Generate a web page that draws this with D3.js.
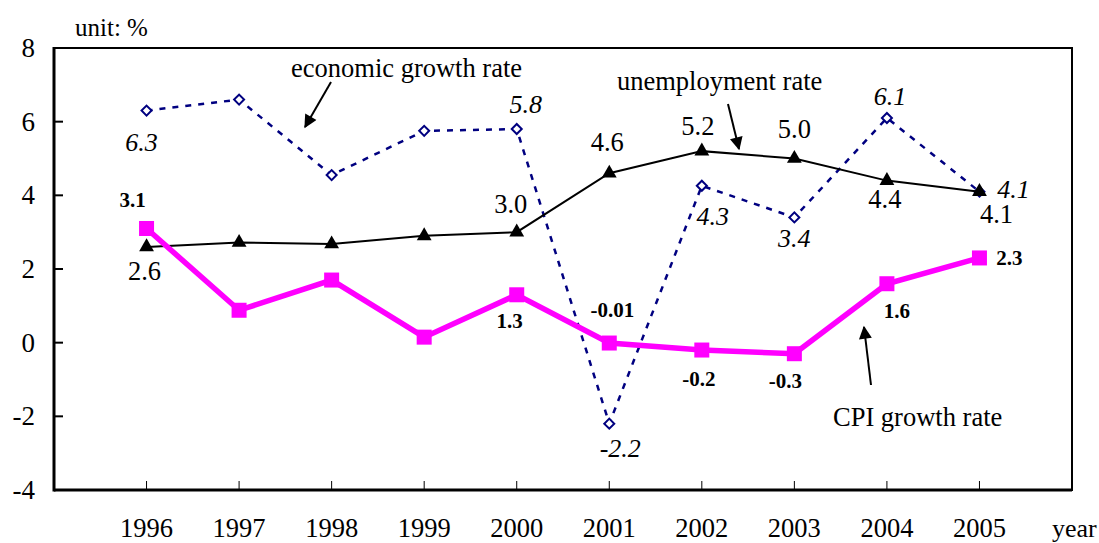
<!DOCTYPE html>
<html>
<head>
<meta charset="utf-8">
<script src="https://cdn.jsdelivr.net/npm/d3@7"></script>
<style>
  body { margin: 0; background: #fff; }
  text { font-family: 'Liberation Serif', 'Times New Roman', 'DejaVu Serif', serif; }
</style>
</head>
<body>
<svg id="chart" width="1099" height="543"></svg>
<script>
// data
const years = [1996, 1997, 1998, 1999, 2000, 2001, 2002, 2003, 2004, 2005];
const econGrowth = [6.3, 6.6, 4.55, 5.75, 5.8, -2.2, 4.26, 3.4, 6.1, 4.1];
const unemployment = [2.6, 2.72, 2.68, 2.9, 3.0, 4.6, 5.2, 5.0, 4.4, 4.1];
const cpiGrowth = [3.1, 0.88, 1.7, 0.15, 1.3, -0.01, -0.2, -0.3, 1.6, 2.3];
const yTicks = [-4, -2, 0, 2, 4, 6, 8];

// which points get a value label, and where it sits (dx, dy in px)
const econLabels = [
  { i: 0, text: '6.3', dx: -5, dy: 40 },
  { i: 4, text: '5.8', dx: 9, dy: -16 },
  { i: 5, text: '-2.2', dx: 11, dy: 33 },
  { i: 6, text: '4.3', dx: 11, dy: 39 },
  { i: 7, text: '3.4', dx: 0, dy: 30 },
  { i: 8, text: '6.1', dx: 3, dy: -13 },
  { i: 9, text: '4.1', dx: 34, dy: 6 }
];
const unempLabels = [
  { i: 0, text: '2.6', dx: -2, dy: 33 },
  { i: 4, text: '3.0', dx: -6, dy: -19 },
  { i: 5, text: '4.6', dx: -2, dy: -22 },
  { i: 6, text: '5.2', dx: -4, dy: -16 },
  { i: 7, text: '5.0', dx: 0, dy: -21 },
  { i: 8, text: '4.4', dx: -2, dy: 27 },
  { i: 9, text: '4.1', dx: 17, dy: 31 }
];
const cpiLabels = [
  { i: 0, text: '3.1', dx: -14, dy: -21 },
  { i: 4, text: '1.3', dx: -7, dy: 33 },
  { i: 5, text: '-0.01', dx: 3, dy: -26 },
  { i: 6, text: '-0.2', dx: -3, dy: 36 },
  { i: 7, text: '-0.3', dx: -9, dy: 34 },
  { i: 8, text: '1.6', dx: 10, dy: 34 },
  { i: 9, text: '2.3', dx: 30, dy: 7 }
];

const svg = d3.select('#chart');
const plotLeft = 54, plotRight = 1072, plotTop = 48, plotBottom = 490;

const x = d3.scaleLinear().domain([1995, 2006]).range([plotLeft, plotRight]);
const y = d3.scaleLinear().domain([-4, 8]).range([plotBottom, plotTop]);

// frame
svg.append('rect')
  .attr('x', plotLeft).attr('y', plotTop)
  .attr('width', plotRight - plotLeft).attr('height', plotBottom - plotTop)
  .attr('fill', 'none').attr('stroke', '#000').attr('stroke-width', 2);
svg.append('line')
  .attr('x1', plotLeft).attr('x2', plotLeft).attr('y1', plotTop - 1).attr('y2', plotBottom + 1.5)
  .attr('stroke', '#000').attr('stroke-width', 3);
svg.append('line')
  .attr('x1', plotLeft).attr('x2', plotRight).attr('y1', plotBottom).attr('y2', plotBottom)
  .attr('stroke', '#000').attr('stroke-width', 3);

// y ticks (inside) and labels
yTicks.forEach(function(t) {
  if (t > -4 && t < 8) {
    svg.append('line')
      .attr('x1', plotLeft).attr('x2', plotLeft + 9)
      .attr('y1', y(t)).attr('y2', y(t))
      .attr('stroke', '#000').attr('stroke-width', 2);
  }
  svg.append('text')
    .attr('x', 35).attr('y', y(t) + 9)
    .attr('text-anchor', 'end')
    .attr('font-size', '27px')
    .text(t);
});

// x ticks and labels
years.forEach(function(yr) {
  svg.append('line')
    .attr('x1', x(yr)).attr('x2', x(yr))
    .attr('y1', plotBottom).attr('y2', plotBottom - 9)
    .attr('stroke', '#000').attr('stroke-width', 1);
  svg.append('text')
    .attr('x', x(yr)).attr('y', 537)
    .attr('text-anchor', 'middle')
    .attr('font-size', '26.5px')
    .text(yr);
});
svg.append('text').attr('x', 1052).attr('y', 537).attr('font-size', '26px').text('year');
svg.append('text').attr('x', 75).attr('y', 36).attr('font-size', '25px').text('unit: %');

const line = d3.line().x((d, i) => x(years[i])).y(d => y(d));

// economic growth rate
svg.append('path').datum(econGrowth)
  .attr('d', line).attr('fill', 'none')
  .attr('stroke', '#000080').attr('stroke-width', 2.5)
  .attr('stroke-dasharray', '6,7');
svg.selectAll('.diamond').data(econGrowth).enter().append('path')
  .attr('d', d3.symbol(d3.symbolSquare, 50)())
  .attr('transform', (d, i) => `translate(${x(years[i])},${y(d)}) rotate(45)`)
  .attr('fill', '#fff').attr('stroke', '#000080').attr('stroke-width', 2);

// unemployment rate
svg.append('path').datum(unemployment)
  .attr('d', line).attr('fill', 'none')
  .attr('stroke', '#000').attr('stroke-width', 2);
svg.selectAll('.tri').data(unemployment).enter().append('path')
  .attr('d', d3.symbol(d3.symbolTriangle, 95)())
  .attr('transform', (d, i) => `translate(${x(years[i])},${y(d)})`)
  .attr('fill', '#000');

// CPI growth rate
svg.append('path').datum(cpiGrowth)
  .attr('d', line).attr('fill', 'none')
  .attr('stroke', '#ff00ff').attr('stroke-width', 5.5);
svg.selectAll('.sq').data(cpiGrowth).enter().append('rect')
  .attr('x', (d, i) => x(years[i]) - 7.5).attr('y', d => y(d) - 7.5)
  .attr('width', 15).attr('height', 15)
  .attr('fill', '#ff00ff');

// value labels
function addLabels(list, values, style) {
  list.forEach(function(l) {
    svg.append('text')
      .attr('x', x(years[l.i]) + l.dx)
      .attr('y', y(values[l.i]) + l.dy)
      .attr('text-anchor', 'middle')
      .attr('font-size', style.size)
      .attr('font-style', style.italic ? 'italic' : 'normal')
      .attr('font-weight', style.bold ? 'bold' : 'normal')
      .text(l.text);
  });
}
addLabels(econLabels, econGrowth, { size: '26px', italic: true });
addLabels(unempLabels, unemployment, { size: '26.5px' });
addLabels(cpiLabels, cpiGrowth, { size: '21px', bold: true });

// annotations with arrows
svg.append('defs').append('marker')
  .attr('id', 'arrow').attr('viewBox', '0 0 10 10')
  .attr('refX', 9).attr('refY', 5)
  .attr('markerWidth', 7.5).attr('markerHeight', 6.5)
  .attr('orient', 'auto')
  .append('path').attr('d', 'M0,0 L10,5 L0,10 z').attr('fill', '#000');

function annotate(label, tx, ty, x1, y1, x2, y2) {
  svg.append('text').attr('x', tx).attr('y', ty).attr('font-size', '26.5px').text(label);
  svg.append('line')
    .attr('x1', x1).attr('y1', y1).attr('x2', x2).attr('y2', y2)
    .attr('stroke', '#000').attr('stroke-width', 2)
    .attr('marker-end', 'url(#arrow)');
}
annotate('economic growth rate', 291, 77, 331, 82, 305, 127);
annotate('unemployment rate', 617, 90, 728, 104, 739, 149);
annotate('CPI growth rate', 833, 426, 871, 385, 864, 327);
</script>
</body>
</html>
